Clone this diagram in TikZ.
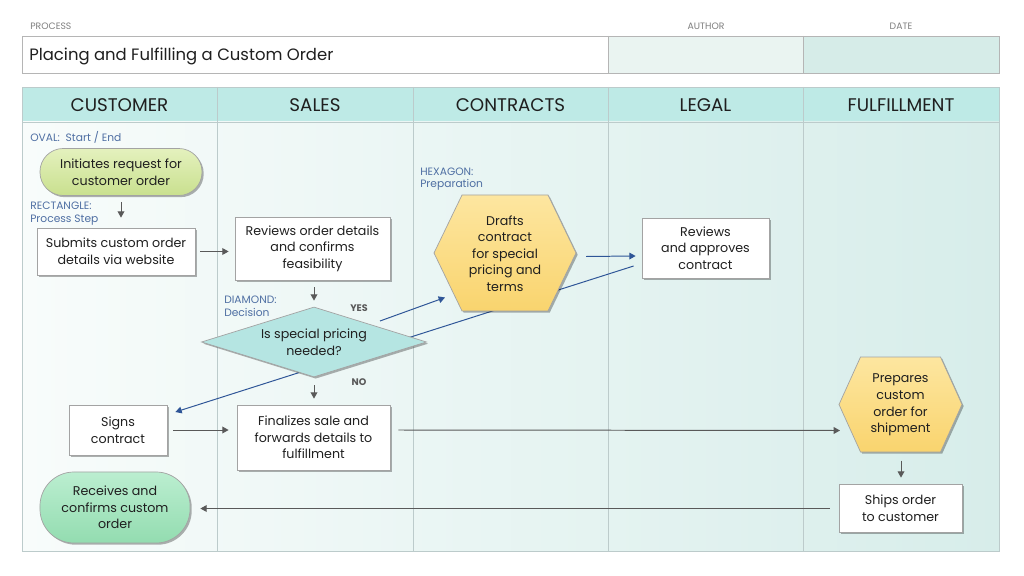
\documentclass[tikz,border=0pt]{standalone}
\usepackage{fontspec}
\setmainfont{Poppins}
\usetikzlibrary{shapes.geometric,shadows,calc,arrows.meta}
\pgfdeclarelayer{lanes}
\pgfdeclarelayer{back}
\pgfsetlayers{lanes,back,main}
\definecolor{txt}{HTML}{1F1F1F}
\definecolor{lab}{HTML}{4F6FA3}
\definecolor{cgray}{HTML}{595959}
\definecolor{cblue}{HTML}{2E5597}
\definecolor{bord}{HTML}{A3A3A3}
\definecolor{grid}{HTML}{BCCBCB}
\definecolor{hdr}{HTML}{BEEAE6}
\definecolor{laneA}{HTML}{F8FCFB}
\definecolor{laneB}{HTML}{D7EDEA}
\definecolor{ovA}{HTML}{E4F1BE}
\definecolor{ovB}{HTML}{C9E08E}
\definecolor{ovtA}{HTML}{BBEED0}
\definecolor{ovtB}{HTML}{93DCB0}
\definecolor{hexA}{HTML}{FDE6A0}
\definecolor{hexB}{HTML}{F9D46E}
\definecolor{diaf}{HTML}{B5E5E2}
\definecolor{authf}{HTML}{EAF4F1}
\definecolor{datef}{HTML}{D6ECE8}
\definecolor{meta}{HTML}{7F7F7F}
\tikzset{
  nf/.style={font=\fontsize{9}{11.8}\selectfont, text=txt},
  shad/.style={drop shadow={shadow xshift=1.2pt, shadow yshift=-1.2pt, opacity=0.3, fill=black}},
  box/.style={nf, shape=rectangle, draw=bord, fill=white, line width=0.5pt, align=center, inner sep=1pt, shad},
  oval/.style={nf, shape=rectangle, draw=bord, line width=0.5pt, align=center, inner sep=1pt, shad},
  hexsty/.style={draw=bord, line width=0.5pt, top color=hexA, bottom color=hexB, shad},
  htext/.style={nf, align=center, inner sep=0pt},
  diasty/.style={nf, shape=diamond, draw=bord, fill=diaf, line width=0.5pt, align=center, inner sep=0pt, aspect=3.2, shad},
  lbl/.style={font=\fontsize{7.6}{9}\selectfont, text=lab, align=left, anchor=west, inner sep=0pt},
  yn/.style={font=\fontsize{6.8}{8}\selectfont\bfseries, text=cgray, inner sep=0pt},
  garr/.style={draw=cgray, line width=0.7pt, -{Triangle[length=4.5pt,width=4.8pt]}},
  barr/.style={draw=cblue, line width=0.7pt, -{Triangle[length=4.5pt,width=4.8pt]}},
  hdrtxt/.style={font=\fontsize{13}{15}\selectfont, text=txt, inner sep=0pt},
  metatxt/.style={font=\fontsize{6.6}{8}\selectfont, text=meta, inner sep=0pt},
}
\begin{document}
\begin{tikzpicture}[x=0.025cm,y=-0.025cm]
\useasboundingbox (0,0) rectangle (1024,576);
\begin{pgfonlayer}{lanes}
\fill[white] (0,0) rectangle (1024,576);
\fill[white] (22,36) rectangle (608,73);
\fill[authf] (608,36) rectangle (803,73);
\fill[datef] (803,36) rectangle (999,73);
\draw[bord!80, line width=0.5pt] (22,36) rectangle (999,73);
\draw[bord!80, line width=0.5pt] (608,36) -- (608,73) (803,36) -- (803,73);
\draw[bord!80, line width=1.3pt] (22,73.5) -- (999,73.5);
\fill[hdr] (22,87) rectangle (999,122);
\shade[left color=laneA, right color=laneB] (22,122) rectangle (999,551);
\draw[grid, line width=0.6pt] (22,87) rectangle (999,551);
\draw[grid, line width=0.6pt] (22,122) -- (999,122);
\foreach \x in {217,413,608,803} \draw[grid, line width=0.6pt] (\x,87) -- (\x,551);
\end{pgfonlayer}
% title block
\node[metatxt, anchor=west] (mproc) at (30,26) {PROCESS};
\node[metatxt] (mauth) at (706,26) {AUTHOR};
\node[metatxt] (mdate) at (901,26) {DATE};
\node[font=\fontsize{11.7}{14}\selectfont, text=txt, anchor=west, inner sep=0pt] (title) at (29,56.5) {Placing and Fulfilling a Custom Order};
% lane headers
\node[hdrtxt] (hcus) at (119.5,105.5) {CUSTOMER};
\node[hdrtxt] (hsal) at (315,105.5) {SALES};
\node[hdrtxt] (hcon) at (510.5,105.5) {CONTRACTS};
\node[hdrtxt] (hleg) at (705.5,105.5) {LEGAL};
\node[hdrtxt] (hful) at (901,105.5) {FULFILLMENT};
% legend labels
\node[lbl] (lov) at (30,137.5) {OVAL:\ \ Start / End};
\node[lbl] (lre) at (30,213.5) {RECTANGLE:\\Process Step};
\node[lbl] (lhx) at (420,179) {HEXAGON:\\Preparation};
\node[lbl] (ldi) at (224,306) {DIAMOND:\\Decision};
% hexagon shapes
\begin{scope}[shift={(505,253)}]
\path[hexsty] (-71,0) -- (-43,-58) -- (43,-58) -- (71,0) -- (43,58) -- (-43,58) -- cycle;
\end{scope}
\begin{scope}[shift={(900.5,404.5)}]
\path[hexsty] (-61.5,0) -- (-40,-47.5) -- (40,-47.5) -- (61.5,0) -- (40,47.5) -- (-40,47.5) -- cycle;
\end{scope}
% nodes
\node[oval, rounded corners=0.58cm, top color=ovA, bottom color=ovB, minimum width=4.05cm, minimum height=1.175cm] (o1) at (121,172) {Initiates request for\\customer order};
\node[box, minimum width=3.95cm, minimum height=1.175cm] (r1) at (116,251.5) {Submits custom order\\details via website};
\node[box, minimum width=3.875cm, minimum height=1.575cm] (r2) at (312.5,248.5) {Reviews order details\\and confirms\\feasibility};
\node[diasty, minimum width=5.625cm, minimum height=1.75cm] (d) at (314,342) {Is special pricing\\needed?};
\node[htext] (h1) at (505,253.5) {Drafts\\contract\\for special\\pricing and\\terms};
\node[box, minimum width=3.175cm, minimum height=1.5cm] (r4) at (705.5,248) {Reviews\\and approves\\contract};
\node[box, minimum width=2.45cm, minimum height=1.25cm] (r5) at (118,430) {Signs\\contract};
\node[box, minimum width=3.825cm, minimum height=1.625cm] (r3) at (313.5,437.5) {Finalizes sale and\\forwards details to\\fulfillment};
\node[htext] (h2) at (900.5,405) {Prepares\\custom\\order for\\shipment};
\node[box, minimum width=3.075cm, minimum height=1.2cm] (r6) at (900.5,508.5) {Ships order\\to customer};
\node[oval, rounded corners=0.85cm, top color=ovtA, bottom color=ovtB, minimum width=3.75cm, minimum height=1.775cm] (o2) at (115,507.5) {Receives and\\confirms custom\\order};
\node[yn] (yes) at (359,308) {YES};
\node[yn] (no) at (359,382) {NO};
% connectors
\draw[garr] ($(o1.south)+(0,6)$) -- ($(o1.south |- r1.north)+(0,-10)$);
\draw[garr] ($(r1.east)+(5,0)$) -- ($(r1.east -| r2.west)+(-6,0)$);
\draw[garr] ($(d.north |- r2.south)+(0,7)$) -- ($(d.north)+(0,-6)$);
\draw[garr] ($(d.south)+(0,8)$) -- ($(d.south |- r3.north)+(0,-6)$);
\draw[barr] ($(d.center)+(66,-21)$) -- ($(h1.center)+(-60,44)$);
\draw[barr] ($(h1.center)+(81,3)$) -- ($(r4.west)+(-6,8)$);
\begin{pgfonlayer}{back}
\draw[barr] ($(r4.west)+(-8,18)$) -- ($(r5.east)+(8,-18)$);
\end{pgfonlayer}
\draw[garr] ($(r5.east)+(6,0)$) -- ($(r5.east -| r3.west)+(-8,0)$);
\draw[garr] ($(r3.east)+(8,-7.5)$) -- ($(h2.center)+(-60.5,25.5)$);
\draw[garr] ($(h2.center)+(0.5,55.5)$) -- ($(r6.north)+(0.5,-6.5)$);
\draw[garr] ($(r6.west)+(-9,0)$) -- ($(r6.west -| o2.east)+(10,0)$);
\end{tikzpicture}
\end{document}
